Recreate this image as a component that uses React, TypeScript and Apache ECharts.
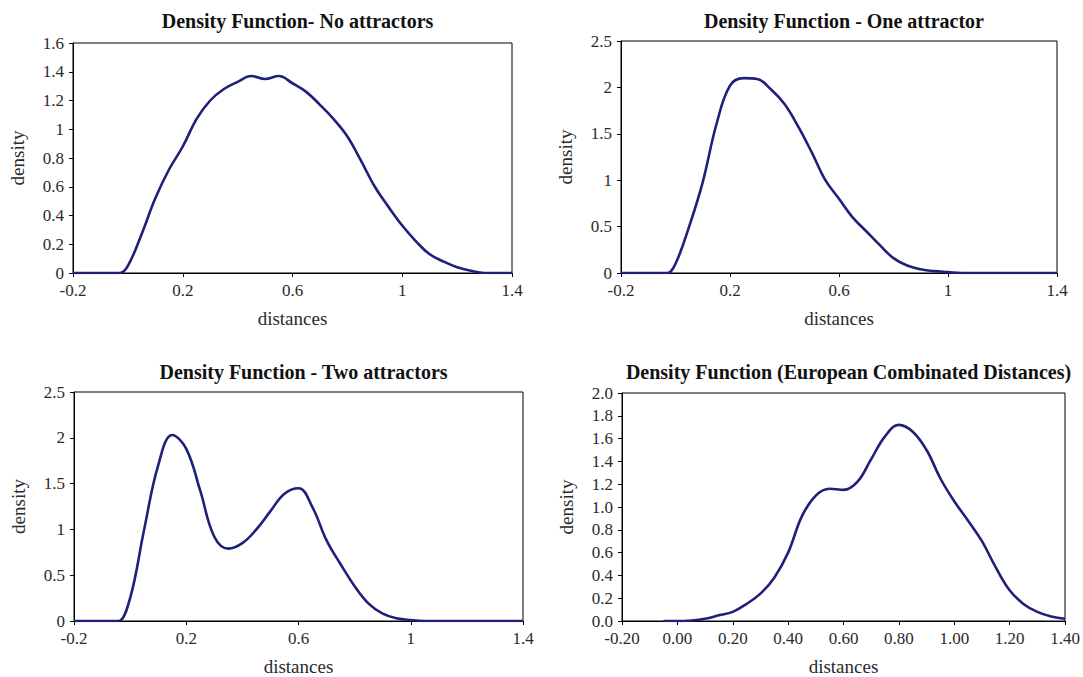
import React, { useEffect, useRef } from "react";
import * as echarts from "echarts";

// Distances sampled every 0.05 for the first three panels
const xNoAttr = [-0.2, -0.15, -0.1, -0.05, -0.03, 0.0, 0.05, 0.1, 0.15, 0.2, 0.25, 0.3, 0.35, 0.4, 0.45, 0.5, 0.55, 0.6, 0.65, 0.7, 0.75, 0.8, 0.85, 0.9, 0.95, 1.0, 1.05, 1.1, 1.15, 1.2, 1.25, 1.3, 1.35, 1.4];
const dNoAttr = [0, 0, 0, 0, 0, 0.05, 0.27, 0.52, 0.72, 0.88, 1.07, 1.2, 1.28, 1.33, 1.37, 1.35, 1.37, 1.32, 1.26, 1.17, 1.07, 0.95, 0.78, 0.6, 0.46, 0.33, 0.22, 0.13, 0.08, 0.04, 0.015, 0, 0, 0];

const xOneAttr = [-0.2, -0.15, -0.1, -0.05, -0.03, 0.0, 0.05, 0.1, 0.15, 0.2, 0.25, 0.3, 0.35, 0.4, 0.45, 0.5, 0.55, 0.6, 0.65, 0.7, 0.75, 0.8, 0.85, 0.9, 0.95, 1.0, 1.05, 1.1, 1.2, 1.3, 1.4];
const dOneAttr = [0, 0, 0, 0, 0, 0.1, 0.5, 0.98, 1.6, 2.02, 2.1, 2.09, 1.98, 1.82, 1.58, 1.3, 1.0, 0.8, 0.6, 0.45, 0.3, 0.16, 0.08, 0.04, 0.02, 0.01, 0, 0, 0, 0, 0];

const xTwoAttr = [-0.2, -0.15, -0.1, -0.05, -0.04, 0.0, 0.05, 0.1, 0.15, 0.2, 0.25, 0.3, 0.35, 0.4, 0.45, 0.5, 0.55, 0.6, 0.65, 0.7, 0.75, 0.8, 0.85, 0.9, 0.95, 1.0, 1.05, 1.1, 1.2, 1.3, 1.4];
const dTwoAttr = [0, 0, 0, 0, 0, 0.25, 1.0, 1.7, 2.03, 1.88, 1.42, 0.92, 0.79, 0.85, 1.0, 1.2, 1.39, 1.45, 1.24, 0.88, 0.62, 0.38, 0.19, 0.08, 0.03, 0.01, 0, 0, 0, 0, 0];

const xEuro = [-0.05, 0.0, 0.05, 0.1, 0.15, 0.2, 0.25, 0.3, 0.35, 0.4, 0.45, 0.5, 0.55, 0.6, 0.65, 0.7, 0.75, 0.8, 0.85, 0.9, 0.95, 1.0, 1.05, 1.1, 1.15, 1.2, 1.25, 1.3, 1.35, 1.4];
const dEuro = [0, 0, 0.005, 0.02, 0.05, 0.08, 0.15, 0.24, 0.38, 0.6, 0.92, 1.1, 1.16, 1.15, 1.22, 1.42, 1.62, 1.72, 1.66, 1.5, 1.25, 1.05, 0.88, 0.7, 0.47, 0.27, 0.15, 0.08, 0.04, 0.02];

// Axis labels
const ticksX = [-0.2, 0.2, 0.6, 1, 1.4];
const titles = [
  "Density Function- No attractors",
  "Density Function - One attractor",
  "Density Function - Two attractors",
  "Density Function (European Combinated Distances)",
];

const FONT = "'Liberation Serif', 'Times New Roman', serif";
const LINE = "#1f1f7c";
const TEXT = "#2a2a2a";

const grids = [
  { left: 73, top: 43, width: 439, height: 230 },
  { left: 621, top: 41, width: 436, height: 232 },
  { left: 74, top: 392, width: 449, height: 231 },
  { left: 622, top: 393, width: 443, height: 230 },
];

function zip(xs: number[], ys: number[]) {
  return xs.map((x, i) => [x, ys[i]]);
}

export default function App() {
  const ref = useRef<HTMLDivElement>(null);

  useEffect(() => {
    if (!ref.current) return;
    const chart = echarts.init(ref.current, null, { renderer: "svg" });

    const xBase = (i: number) => ({
      type: "value",
      gridIndex: i,
      min: -0.2,
      max: 1.4,
      name: "distances",
      nameLocation: "middle",
      nameGap: 36,
      nameTextStyle: { fontFamily: FONT, fontSize: 19, color: TEXT },
      axisLine: { show: true, onZero: false, lineStyle: { color: "#000", width: 1 } },
      splitLine: { show: false },
    });

    const xAxes: any[] = [0, 1, 2].map((i) => ({
      ...xBase(i),
      axisTick: { show: true, length: 4, customValues: ticksX, lineStyle: { color: "#000" } },
      axisLabel: {
        customValues: ticksX,
        margin: 9,
        fontFamily: FONT,
        fontSize: 17,
        color: TEXT,
        formatter: (v: number) => String(Math.round(v * 10) / 10),
      },
    }));
    xAxes.push({
      ...xBase(3),
      interval: 0.2,
      axisTick: { show: true, length: 4, lineStyle: { color: "#000" } },
      axisLabel: {
        margin: 9,
        fontFamily: FONT,
        fontSize: 17,
        color: TEXT,
        formatter: (v: number) => v.toFixed(2),
      },
    });

    const yBase = (i: number, max: number, interval: number, digits: number | null) => ({
      type: "value",
      gridIndex: i,
      min: 0,
      max,
      interval,
      name: "density",
      nameLocation: "middle",
      nameGap: 46,
      nameRotate: 90,
      nameTextStyle: { fontFamily: FONT, fontSize: 19, color: TEXT },
      axisLine: { show: true, onZero: false, lineStyle: { color: "#000", width: 1 } },
      axisTick: { show: true, length: 4, lineStyle: { color: "#000" } },
      splitLine: { show: false },
      axisLabel: {
        margin: 9,
        fontFamily: FONT,
        fontSize: 17,
        color: TEXT,
        formatter: (v: number) =>
          digits === null ? String(Math.round(v * 10) / 10) : v.toFixed(digits),
      },
    });

    const yAxes = [
      yBase(0, 1.6, 0.2, null),
      yBase(1, 2.5, 0.5, null),
      yBase(2, 2.5, 0.5, null),
      yBase(3, 2.0, 0.2, 1),
    ];

    const seriesData = [
      zip(xNoAttr, dNoAttr),
      zip(xOneAttr, dOneAttr),
      zip(xTwoAttr, dTwoAttr),
      zip(xEuro, dEuro),
    ];

    chart.setOption({
      animation: false,
      backgroundColor: "#fff",
      title: titles.map((t, i) => ({
        text: t,
        left: grids[i].left + grids[i].width / 2,
        top: i < 2 ? 6 : 357,
        textAlign: "center",
        textStyle: { fontFamily: FONT, fontSize: 20, fontWeight: "bold", color: "#111" },
      })),
      grid: grids.map((g) => ({
        ...g,
        show: true,
        borderColor: "#000",
        borderWidth: 1,
        backgroundColor: "transparent",
      })),
      xAxis: xAxes,
      yAxis: yAxes,
      series: seriesData.map((d, i) => ({
        type: "line",
        xAxisIndex: i,
        yAxisIndex: i,
        data: d,
        smooth: 0.4,
        showSymbol: false,
        lineStyle: { color: LINE, width: 2.6 },
      })),
    });

    return () => chart.dispose();
  }, []);

  return (
    <div
      ref={ref}
      style={{ position: "fixed", left: 0, top: 0, width: 1083, height: 677, background: "#fff" }}
    />
  );
}
